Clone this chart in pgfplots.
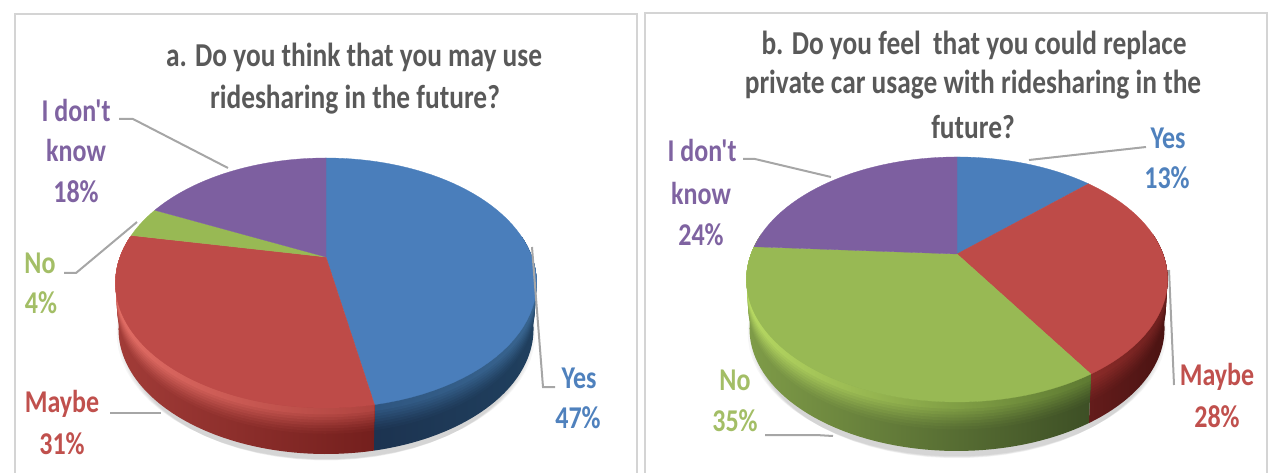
\documentclass[border=0pt]{standalone}
\usepackage{fontspec}
\setmainfont{Carlito}[Ligatures=TeXOff]
\usepackage{graphicx}
\usepackage{pgfplots}
\usepackage{pgfplotstable}
\pgfplotsset{compat=1.18}

\definecolor{tBlue}{HTML}{4A7EBB}
\definecolor{tRed}{HTML}{BE4B48}
\definecolor{tGreen}{HTML}{98B954}
\definecolor{tPurple}{HTML}{7D5FA0}
\definecolor{lBlue}{HTML}{4F81BD}
\definecolor{lRed}{HTML}{C0504D}
\definecolor{lGreen}{HTML}{A3BE66}
\definecolor{lPurple}{HTML}{7F63A1}
\definecolor{lead}{HTML}{A6A6A6}
\definecolor{frame}{HTML}{D4D4D4}
\definecolor{head}{HTML}{595959}
% Side wall colours: lower left, lower right, rim left, rim right
\definecolor{blueWL}{HTML}{1C3350}
\definecolor{blueWR}{HTML}{20405F}
\definecolor{blueHL}{HTML}{2F5680}
\definecolor{blueHR}{HTML}{38648F}
\definecolor{redWL}{HTML}{A23C38}
\definecolor{redWR}{HTML}{741F1D}
\definecolor{redHL}{HTML}{E06C64}
\definecolor{redHR}{HTML}{B04440}
\definecolor{maroonWL}{HTML}{641C1B}
\definecolor{maroonWR}{HTML}{4A1312}
\definecolor{maroonHL}{HTML}{8A2B28}
\definecolor{maroonHR}{HTML}{6C1F1E}
\definecolor{greenWL}{HTML}{7F9C48}
\definecolor{greenWR}{HTML}{3D4F25}
\definecolor{greenHL}{HTML}{B6D862}
\definecolor{greenHR}{HTML}{5E7A32}

% Shares of each answer, clockwise from twelve o'clock
\pgfplotstableread{
answer share
Yes    47
Maybe  31
No     4
Idk    18
}\tableA
\pgfplotstableread{
answer share
Yes    13
Maybe  28
No     35
Idk    24
}\tableB

% Top face of one slice: arc from #2 to #3 degrees closed through the apex
\newcommand{\slicetop}[4]{%
  \addplot[fill=#4,draw=#4,line width=0.3pt,
    declare function={th(\s)=#2+(#3-#2)*\s/60; rr(\s)=(abs(\s-30)>30.5)?0:1;},
    samples at={-1,0,1,...,61}]
    ({pieX#1(th(x),0,rr(x))},{pieY#1(th(x),0,rr(x))});
}
% One band of the side wall, from the rim down to depth #4
\newcommand{\wallband}[6]{%
  \addplot[draw=none,left color=#6HL!#5!#6WL,right color=#6HR!#5!#6WR,
    declare function={th(\s)=(\s<60.5)?(#2+(#3-#2)*\s/60):(#3-(#3-#2)*(\s-61)/60);
                      dd(\s)=(\s<60.5)?0:#4;},
    samples at={0,1,...,121}]
    ({pieX#1(th(x),dd(x),1)},{pieY#1(th(x),dd(x),1)});
}
% Side wall with a lit rim fading into the darker lower part
\newcommand{\wallstack}[4]{%
  \wallband{#1}{#2}{#3}{1.00}{0}{#4}
  \wallband{#1}{#2}{#3}{0.56}{8}{#4}
  \wallband{#1}{#2}{#3}{0.50}{18}{#4}
  \wallband{#1}{#2}{#3}{0.44}{30}{#4}
  \wallband{#1}{#2}{#3}{0.38}{44}{#4}
  \wallband{#1}{#2}{#3}{0.32}{58}{#4}
  \wallband{#1}{#2}{#3}{0.26}{72}{#4}
  \wallband{#1}{#2}{#3}{0.20}{86}{#4}
  \wallband{#1}{#2}{#3}{0.14}{100}{#4}
}
% Soft drop shadow under a pie
\newcommand{\dropshadow}[3]{%
  \addplot[fill=black,fill opacity=0.035,draw=none,domain=0:360,samples=80]
    ({pieX#1(x,#2,#3)},{pieY#1(x,#2,#3)});
}
% Text helpers: lettering is set tall and narrow
\newcommand{\lab}[4]{\node[text=#4,font=\fontsize{26}{26}\selectfont\bfseries,anchor=center] at (axis cs:#1,#2) {\scalebox{1}[1.22]{#3}};}
\newcommand{\ttl}[3]{\node[text=head,font=\fontsize{27.4}{27.4}\selectfont\bfseries,anchor=center] at (axis cs:#1,#2) {\scalebox{1}[1.22]{#3}};}

\begin{document}
\begin{tikzpicture}
  % Cumulative slice boundaries in degrees
  \pgfplotstablegetelem{0}{share}\of\tableA \pgfmathsetmacro{\aOne}{3.6*\pgfplotsretval}
  \pgfplotstablegetelem{1}{share}\of\tableA \pgfmathsetmacro{\aTwo}{\aOne+3.6*\pgfplotsretval}
  \pgfplotstablegetelem{2}{share}\of\tableA \pgfmathsetmacro{\aThree}{\aTwo+3.6*\pgfplotsretval}
  \pgfplotstablegetelem{0}{share}\of\tableB \pgfmathsetmacro{\bOne}{3.6*\pgfplotsretval}
  \pgfplotstablegetelem{1}{share}\of\tableB \pgfmathsetmacro{\bTwo}{\bOne+3.6*\pgfplotsretval}
  \pgfplotstablegetelem{2}{share}\of\tableB \pgfmathsetmacro{\bThree}{\bTwo+3.6*\pgfplotsretval}
  \path[use as bounding box] (0,0) rectangle (1283pt,473pt);
  \begin{axis}[
    at={(0,0)},anchor=south west,
    scale only axis,width=1283pt,height=473pt,
    xmin=0,xmax=1283,ymin=0,ymax=473,y dir=reverse,
    hide axis,clip=true,
    declare function={
      pieXa(\t,\d,\r)=326+\r*(206-3*\d)*sin(\t)/(1+0.208*cos(\t));
      pieYa(\t,\d,\r)=257-\r*119.6*cos(\t)/(1+0.208*cos(\t))+46*\d;
      pieXb(\t,\d,\r)=957+\r*(206-3*\d)*sin(\t)/(1+0.208*cos(\t));
      pieYb(\t,\d,\r)=254-\r*117.2*cos(\t)/(1+0.208*cos(\t))+49*\d;
    }]
    % Panel frames
    \addplot[frame,line width=2.6pt] coordinates {(15,490)(15,14)(637,14)(637,490)};
    \addplot[frame,line width=2.6pt] coordinates {(645,490)(645,13)(1267,13)(1267,490)};

    % Pie a
    \dropshadow{a}{1.24}{0.97}
    \dropshadow{a}{1.20}{0.98}
    \dropshadow{a}{1.16}{0.99}
    \dropshadow{a}{1.12}{1.00}
    \dropshadow{a}{1.08}{1.01}
    \wallstack{a}{80}{\aOne}{blue}
    \wallstack{a}{\aOne}{280}{red}
    \slicetop{a}{0}{\aOne}{tBlue}
    \slicetop{a}{\aOne}{\aTwo}{tRed}
    \slicetop{a}{\aTwo}{\aThree}{tGreen}
    \slicetop{a}{\aThree}{360}{tPurple}

    % Pie b
    \dropshadow{b}{1.24}{0.97}
    \dropshadow{b}{1.20}{0.98}
    \dropshadow{b}{1.16}{0.99}
    \dropshadow{b}{1.12}{1.00}
    \dropshadow{b}{1.08}{1.01}
    \wallstack{b}{80}{\bTwo}{maroon}
    \wallstack{b}{\bTwo}{280}{green}
    \slicetop{b}{0}{\bOne}{tBlue}
    \slicetop{b}{\bOne}{\bTwo}{tRed}
    \slicetop{b}{\bTwo}{\bThree}{tGreen}
    \slicetop{b}{\bThree}{360}{tPurple}

    % Leader lines
    \addplot[lead,line width=2pt] coordinates {(119,119)(133,119)(228,168)};
    \addplot[lead,line width=2pt] coordinates {(64,273)(76,273)(137,222)};
    \addplot[lead,line width=2pt] coordinates {(110,413)(161,413)};
    \addplot[lead,line width=2pt] coordinates {(555,387)(543,387)(532,247)};
    \addplot[lead,line width=2pt] coordinates {(743,159)(755,159)(831,177)};
    \addplot[lead,line width=2pt] coordinates {(1146,147)(1029,160)};
    \addplot[lead,line width=2pt] coordinates {(1174,385)(1169,270)};
    \addplot[lead,line width=2pt] coordinates {(765,435)(816,435)(833,436)};

    % Titles
    \ttl{354}{57}{a. Do you think that you may use}
    \ttl{355}{100}{ridesharing in the future?}
    \ttl{974}{45}{b. Do you feel\ \ that you could replace}
    \ttl{973}{85}{private car usage with ridesharing in the}
    \ttl{973}{127}{future?}

    % Slice labels, panel a
    \lab{76}{110}{I don't}{lPurple}
    \lab{76}{150}{know}{lPurple}
    \lab{76}{192}{18\%}{lPurple}
    \lab{40}{263}{No}{lGreen}
    \lab{41}{303}{4\%}{lGreen}
    \lab{62}{404}{Maybe}{lRed}
    \lab{62}{444}{31\%}{lRed}
    \lab{579}{378}{Yes}{lBlue}
    \lab{578}{418}{47\%}{lBlue}

    % Slice labels, panel b
    \lab{702}{150}{I don't}{lPurple}
    \lab{701}{193}{know}{lPurple}
    \lab{701}{235}{24\%}{lPurple}
    \lab{1168}{138}{Yes}{lBlue}
    \lab{1167}{178}{13\%}{lBlue}
    \lab{1217}{377}{Maybe}{lRed}
    \lab{1217}{417}{28\%}{lRed}
    \lab{735}{380}{No}{lGreen}
    \lab{735}{421}{35\%}{lGreen}
  \end{axis}
\end{tikzpicture}
\end{document}
